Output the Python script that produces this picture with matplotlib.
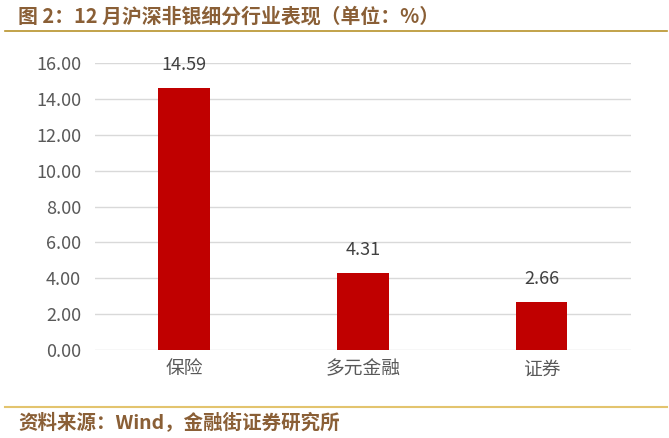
import numpy as np
import matplotlib.pyplot as plt
from matplotlib.lines import Line2D

plt.rcParams['font.family'] = ['Noto Sans CJK SC', 'DejaVu Sans']

# data
categories = ['保险', '多元金融', '证券']
values = [14.59, 4.31, 2.66]
y_ticks = [0, 2, 4, 6, 8, 10, 12, 14, 16]

title = '图 2：12 月沪深非银细分行业表现（单位：%）'
source = '资料来源：Wind，金融街证券研究所'

bar_color = '#C00000'
brown = '#8A5F36'
gray_text = '#595959'

fig = plt.figure(figsize=(6.69, 4.38), dpi=100)
ax = fig.add_axes([0.142, 0.201, 0.801, 0.655])

x = np.arange(len(categories))
bars = ax.bar(x, values, width=0.29, color=bar_color, zorder=3)

for xi, v in zip(x, values):
    ax.annotate('%.2f' % v, (xi, v), xytext=(0, 16.5), textcoords='offset points',
                ha='center', va='center', fontsize=13, color='#404040')

ax.set_xlim(-0.5, len(categories) - 0.5)
ax.set_ylim(0, 16)
ax.set_yticks(y_ticks)
ax.set_yticklabels(['%.2f' % t for t in y_ticks])
ax.set_xticks(x)
ax.set_xticklabels(categories)
ax.tick_params(axis='y', length=0, pad=10, labelsize=13, labelcolor=gray_text)
ax.tick_params(axis='x', length=0, pad=6, labelsize=13.5, labelcolor=gray_text)

ax.grid(axis='y', color='#D9D9D9', linewidth=1, zorder=0)
for s in ax.spines.values():
    s.set_visible(False)

# header and footer
fig.text(18 / 669, 1 - 16 / 438, title, ha='left', va='center', fontsize=14.3,
         fontweight='bold', color=brown)
fig.add_artist(Line2D([5 / 669, 667 / 669], [1 - 31 / 438, 1 - 31 / 438],
                      color='#B8922A', linewidth=1.2))
fig.add_artist(Line2D([5 / 669, 667 / 669], [1 - 407 / 438, 1 - 407 / 438],
                      color='#E3C46E', linewidth=1.5))
fig.text(18 / 669, 1 - 423 / 438, source, ha='left', va='center', fontsize=14,
         fontweight='bold', color=brown)

fig.savefig('out.png', dpi=100)
